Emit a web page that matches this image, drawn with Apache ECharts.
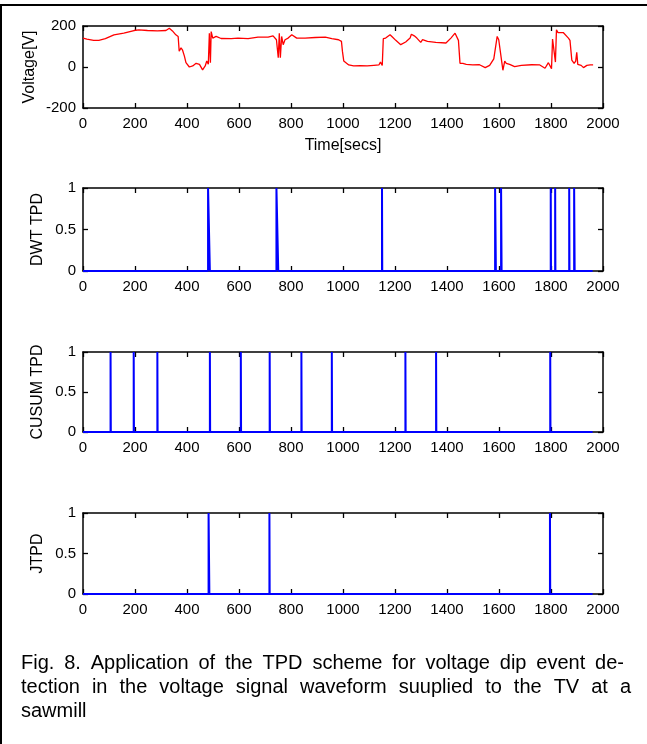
<!DOCTYPE html>
<html>
<head>
<meta charset="utf-8">
<script src="https://cdn.jsdelivr.net/npm/echarts@6/dist/echarts.min.js"></script>
<style>
  html, body { margin: 0; padding: 0; background: #fff; }
  #chart { width: 647px; height: 744px; }
</style>
</head>
<body>
<div id="chart"></div>
<script>
// Supply voltage at the TV (seconds, volts)
const voltTime = [0, 15, 41, 61, 86, 119, 157, 196, 215, 248, 286, 319, 332, 344, 357, 366, 370, 377, 383, 390,
  396, 409, 422, 435, 448, 460, 470, 476, 482, 486, 490, 493, 499, 512, 531, 570, 596, 635, 673, 712,
  731, 744, 751, 755, 759, 764, 770, 777, 789, 803, 822, 854, 893, 932, 957, 983, 994, 998, 1003, 1009,
  1022, 1041, 1067, 1093, 1119, 1138, 1144, 1151, 1155, 1164, 1170, 1181, 1190, 1203, 1222, 1241, 1258, 1263, 1274, 1284,
  1289, 1299, 1306, 1325, 1357, 1396, 1415, 1431, 1444, 1450, 1461, 1474, 1499, 1525, 1547, 1564, 1580, 1587, 1593, 1599,
  1606, 1611, 1615, 1622, 1628, 1641, 1660, 1686, 1725, 1757, 1777, 1790, 1796, 1802, 1806, 1813, 1817, 1821, 1827, 1847,
  1867, 1873, 1880, 1889, 1895, 1899, 1903, 1916, 1925, 1938, 1951, 1962];
const voltValue = [141, 136, 130, 130, 138, 157, 165, 178, 181, 178, 176, 178, 189, 176, 157, 149, 77, 93, 82, 53,
  21, 0, 5, 18, 13, -14, 5, 29, 13, 165, 21, 173, 141, 149, 139, 138, 141, 138, 146, 146,
  152, 133, 45, 165, 45, 149, 109, 133, 141, 157, 141, 141, 144, 146, 138, 133, 125, 75, 29, 21,
  10, 5, 6, 5, 8, 10, 24, 8, 138, 141, 149, 157, 146, 130, 109, 122, 141, 160, 152, 141,
  146, 120, 133, 125, 120, 117, 141, 165, 130, 18, 18, 13, 10, 11, -3, 8, 40, 45, 149, 133,
  125, 21, -16, 29, 18, 13, 2, 8, 11, 10, -6, 21, 29, -8, 136, 141, 24, 181, 168, 168,
  141, 130, 34, 18, 29, 72, 13, 8, -3, 8, 10, 10];

// Detector outputs: intervals (seconds) where the detector flags an event
const dwtStart   = [481, 744, 1150, 1585, 1608, 1799, 1816, 1870, 1889];
const dwtEnd     = [488, 751, 1151, 1588, 1610, 1800, 1817, 1871, 1891];
const cusumStart = [106, 195, 286, 488, 607, 718, 840, 957, 1240, 1358, 1797];
const cusumEnd   = [107, 196, 287, 489, 608, 719, 841, 958, 1241, 1359, 1798];
const jtpdStart  = [483, 717, 1796];
const jtpdEnd    = [486, 718, 1797];
const recordEnd = 1960;

// Axis ranges and ticks
const timeMin = 0, timeMax = 2000, timeStep = 200;
const voltMin = -200, voltMax = 200, voltStep = 200;
const flagMin = 0, flagMax = 1, flagStep = 0.5;

const captionLines = [
  'Fig. 8. Application of the TPD scheme for voltage dip event de-',
  'tection in the voltage signal waveform suuplied to the TV at a',
  'sawmill'
];

const FONT = "'Liberation Sans', Arial, Helvetica, sans-serif";

function pulseTrain(starts, ends, tEnd) {
  const pts = [[0, 0]];
  for (let i = 0; i < starts.length; i++) {
    pts.push([starts[i], 0], [starts[i], 1], [ends[i], 1], [ends[i], 0]);
  }
  pts.push([tEnd, 0]);
  return pts;
}

const voltData = voltTime.map((t, i) => [t, voltValue[i]]);

const panels = [
  { top: 26,  height: 82, yName: 'Voltage[V]', nameGap: 45, xName: 'Time[secs]', min: voltMin, max: voltMax, step: voltStep,
    data: voltData, color: '#ff0000', width: 1.3 },
  { top: 188, height: 83, yName: 'DWT TPD', nameGap: 37, min: flagMin, max: flagMax, step: flagStep,
    data: pulseTrain(dwtStart, dwtEnd, recordEnd), color: '#0000ff', width: 2 },
  { top: 352, height: 80, yName: 'CUSUM TPD', nameGap: 37, min: flagMin, max: flagMax, step: flagStep,
    data: pulseTrain(cusumStart, cusumEnd, recordEnd), color: '#0000ff', width: 2 },
  { top: 513, height: 81, yName: 'JTPD', nameGap: 37, min: flagMin, max: flagMax, step: flagStep,
    data: pulseTrain(jtpdStart, jtpdEnd, recordEnd), color: '#0000ff', width: 2 }
];

const axisLine = { onZero: false, lineStyle: { color: '#000', width: 1.5 } };
const axisTick = { inside: true, length: 5, lineStyle: { color: '#000', width: 1.3 } };
const labelStyle = { color: '#000', fontSize: 15, fontFamily: FONT, formatter: v => String(v) };
const nameStyle = { color: '#000', fontSize: 16, fontFamily: FONT };

const grid = [], xAxis = [], yAxis = [], series = [];
panels.forEach((p, i) => {
  grid.push({ left: 83, top: p.top, width: 520, height: p.height });
  xAxis.push({
    gridIndex: i, type: 'value', position: 'bottom', min: timeMin, max: timeMax, interval: timeStep,
    name: p.xName || '', nameLocation: 'middle', nameGap: 30, nameMoveOverlap: false, nameTextStyle: nameStyle,
    axisLine, axisTick, axisLabel: Object.assign({ margin: 8 }, labelStyle), splitLine: { show: false }
  });
  xAxis.push({
    gridIndex: i, type: 'value', position: 'top', min: timeMin, max: timeMax, interval: timeStep,
    axisLine, axisTick, axisLabel: { show: false }, splitLine: { show: false }
  });
  yAxis.push({
    gridIndex: i, type: 'value', position: 'left', min: p.min, max: p.max, interval: p.step,
    name: p.yName, nameLocation: 'middle', nameGap: p.nameGap, nameMoveOverlap: false, nameTextStyle: nameStyle,
    axisLine, axisTick, axisLabel: Object.assign({ margin: 7 }, labelStyle), splitLine: { show: false }
  });
  yAxis.push({
    gridIndex: i, type: 'value', position: 'right', min: p.min, max: p.max, interval: p.step,
    axisLine, axisTick, axisLabel: { show: false }, splitLine: { show: false }
  });
  series.push({
    type: 'line', xAxisIndex: 2 * i, yAxisIndex: 2 * i, data: p.data,
    showSymbol: false, symbol: 'none', z: 5,
    lineStyle: { color: p.color, width: p.width }
  });
});

// Caption, justified between the margins like the printed text block
const capSize = 20, capLeft = 21, capRights = [624, 631, null], capMid = [663, 687, 711];
const measureCtx = document.createElement('canvas').getContext('2d');
measureCtx.font = capSize + "px 'Liberation Sans', Arial, sans-serif";
const graphic = [
  { type: 'rect', shape: { x: 1, y: 5, width: 720, height: 800 }, style: { fill: 'none', stroke: '#000', lineWidth: 2 }, silent: true }
];
captionLines.forEach((line, li) => {
  const words = line.split(' ');
  const widths = words.map(w => measureCtx.measureText(w).width);
  const total = widths.reduce((a, b) => a + b, 0);
  const spaceW = measureCtx.measureText(' ').width;
  const gap = capRights[li] && words.length > 1 ? (capRights[li] - capLeft - total) / (words.length - 1) : spaceW;
  let x = capLeft;
  words.forEach((w, wi) => {
    graphic.push({
      type: 'text', x: x, y: capMid[li], silent: true,
      style: { text: w, fontSize: capSize, fontFamily: FONT, fill: '#000', verticalAlign: 'middle', align: 'left' }
    });
    x += widths[wi] + gap;
  });
});

const chart = echarts.init(document.getElementById('chart'), null, { renderer: 'canvas' });
chart.setOption({
  backgroundColor: '#fff',
  animation: false,
  grid, xAxis, yAxis, series, graphic
});
</script>
</body>
</html>
